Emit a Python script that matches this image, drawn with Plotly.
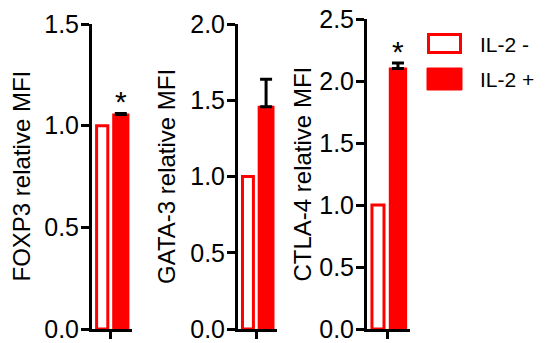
import plotly.graph_objects as go

# ---------------- data ----------------
markers = ["FOXP3", "GATA-3", "CTLA-4"]
groups = ["IL-2 -", "IL-2 +"]
il2_minus = [1.0, 1.0, 1.0]
il2_plus = [1.055, 1.457, 2.10]
il2_plus_err = [0.005, 0.18, 0.045]
y_max = [1.5, 2.0, 2.5]
y_ticks = [
    [0.0, 0.5, 1.0, 1.5],
    [0.0, 0.5, 1.0, 1.5, 2.0],
    [0.0, 0.5, 1.0, 1.5, 2.0, 2.5],
]
significance = ["*", "", "*"]

# ---------------- layout constants ----------------
W, H = 548, 343
x_domains = [(92 / W, 132 / W), (238 / W, 277 / W), (367 / W, 410 / W)]
y_bottom = 1 - 329 / H
y_domains = [(y_bottom, 1 - 24 / H), (y_bottom, 1 - 24 / H), (y_bottom, 1 - 19 / H)]
title_x = [21 / W, 166.5 / W, 301.5 / W]

RED = "#ff0000"
FONT = "Arial, Liberation Sans, sans-serif"

OPEN_OFFSET, OPEN_WIDTH = -0.355, 0.28
FILL_OFFSET, FILL_WIDTH = 0.06, 0.38

fig = go.Figure()
annotations = []

for i, m in enumerate(markers):
    xa = "x" if i == 0 else f"x{i + 1}"
    ya = "y" if i == 0 else f"y{i + 1}"
    fig.add_bar(
        x=[m], y=[il2_minus[i]], name=groups[0], xaxis=xa, yaxis=ya,
        offset=OPEN_OFFSET, width=OPEN_WIDTH,
        marker=dict(color="white", line=dict(color=RED, width=3)),
        showlegend=False,
    )
    fig.add_bar(
        x=[m], y=[il2_plus[i]], name=groups[1], xaxis=xa, yaxis=ya,
        offset=FILL_OFFSET, width=FILL_WIDTH,
        marker=dict(color=RED, line=dict(color=RED, width=2)),
        error_y=dict(type="data", symmetric=False, array=[il2_plus_err[i]],
                     arrayminus=[0], color="black", thickness=3, width=6),
        showlegend=False,
    )

    xkey = "xaxis" if i == 0 else f"xaxis{i + 1}"
    ykey = "yaxis" if i == 0 else f"yaxis{i + 1}"
    fig.layout[xkey] = dict(
        domain=list(x_domains[i]), anchor=ya, type="category", automargin=False,
        range=[-0.47, 0.53], showline=True, linecolor="black", linewidth=3,
        ticks="outside", ticklen=7, tickwidth=3, tickcolor="black",
        tickvals=[m], showticklabels=False, showgrid=False, zeroline=False,
    )
    fig.layout[ykey] = dict(
        domain=list(y_domains[i]), anchor=xa, range=[0, y_max[i]], automargin=False,
        showline=True, linecolor="black", linewidth=3,
        ticks="outside", ticklen=8, tickwidth=3, tickcolor="black",
        tickvals=y_ticks[i], tickformat=".1f", ticklabeloverflow="allow",
        ticklabelstandoff=-3,
        tickfont=dict(family=FONT, size=25, color="black"),
        showgrid=False, zeroline=False,
    )

    # axis title
    annotations.append(dict(
        xref="paper", yref="paper", x=title_x[i],
        y=(y_domains[i][0] + y_domains[i][1]) / 2,
        text=f"{m} relative MFI", textangle=-90, showarrow=False,
        xanchor="center", yanchor="middle",
        font=dict(family=FONT, size=24, color="black"),
    ))
    # significance star
    if significance[i]:
        annotations.append(dict(
            xref=xa, yref=ya, x=FILL_OFFSET + FILL_WIDTH / 2,
            y=il2_plus[i] + il2_plus_err[i], text=significance[i],
            showarrow=False, xanchor="center", yanchor="bottom", yshift=-7,
            font=dict(family=FONT, size=30, color="black"),
        ))

# legend drawn manually (large swatches)
shapes = [
    dict(type="rect", xref="paper", yref="paper",
         x0=428.5 / W, x1=460.5 / W, y0=1 - 52.5 / H, y1=1 - 34.5 / H,
         line=dict(color=RED, width=3), fillcolor="white"),
    dict(type="rect", xref="paper", yref="paper",
         x0=427 / W, x1=462 / W, y0=1 - 90 / H, y1=1 - 68 / H,
         line=dict(color=RED, width=1), fillcolor=RED),
]
for name, yc in zip(groups, [44, 79]):
    annotations.append(dict(
        xref="paper", yref="paper", x=478 / W, y=1 - yc / H, text=name,
        showarrow=False, xanchor="left", yanchor="middle",
        font=dict(family=FONT, size=21, color="black"),
    ))

fig.update_layout(
    width=W, height=H, margin=dict(l=0, r=0, t=0, b=0, autoexpand=False),
    paper_bgcolor="white", plot_bgcolor="white",
    barmode="overlay", showlegend=False,
    annotations=annotations, shapes=shapes,
    font=dict(family=FONT, color="black"),
)

fig.write_html("out.html", config={"displayModeBar": False},
               post_script="document.body.style.margin='0';")
